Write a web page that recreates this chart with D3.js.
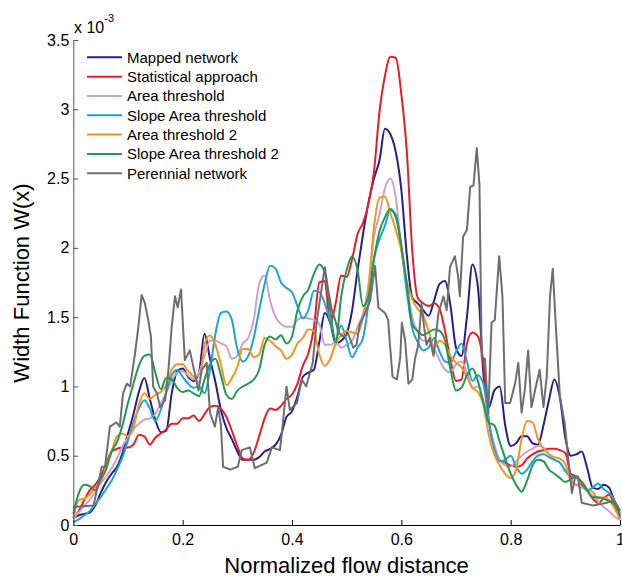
<!DOCTYPE html>
<html>
<head>
<meta charset="utf-8">
<script src="https://cdn.jsdelivr.net/npm/d3@7"></script>
<style>
  body { margin: 0; background: #fff; }
  svg { display: block; font-family: "Liberation Sans", Arial, Helvetica, sans-serif; }
</style>
</head>
<body>
<svg id="canvas" width="622" height="577"></svg>
<script>
// valeurs (unites de 1e-3), pas de 0.01 en distance
const xGrid = d3.range(0, 101).map(i => i / 100)

const mapped = [0.05,0.07,0.08,0.09,0.14,0.23,0.31,0.37,0.42,0.52,
  0.66,0.80,0.96,1.06,0.91,0.76,0.67,0.68,0.95,1.11,
  1.13,1.07,1.04,1.10,1.38,1.20,1.03,0.83,0.70,0.62,
  0.53,0.47,0.47,0.47,0.49,0.53,0.55,0.58,0.65,0.78,
  0.82,0.93,1.07,1.10,1.12,1.32,1.53,1.46,1.31,1.33,
  1.38,1.55,1.84,2.10,2.33,2.50,2.63,2.86,2.82,2.69,
  2.42,1.95,1.64,1.60,1.55,1.51,1.62,1.74,1.76,1.58,
  1.28,1.22,1.50,1.88,1.72,1.10,0.85,0.97,1.00,0.72,
  0.57,0.59,0.64,0.64,0.59,0.58,0.72,0.90,1.05,0.92,
  0.63,0.50,0.51,0.53,0.41,0.27,0.26,0.29,0.27,0.17,
  0.10]

const statistical = [0.05,0.10,0.18,0.25,0.29,0.35,0.44,0.53,0.55,0.56,
  0.56,0.58,0.65,0.64,0.58,0.63,0.66,0.69,0.73,0.73,
  0.77,0.77,0.79,0.75,0.80,0.85,0.86,0.84,0.78,0.68,
  0.57,0.48,0.47,0.52,0.64,0.77,0.84,0.83,0.86,0.91,
  0.94,1.02,1.15,1.24,1.42,1.75,1.76,1.45,1.60,1.80,
  1.79,1.92,2.10,2.18,2.32,2.55,2.98,3.24,3.38,3.37,
  3.11,2.70,1.98,1.64,1.60,1.58,1.60,1.56,1.40,1.19,
  1.04,1.05,1.31,1.39,1.36,1.17,0.75,0.56,0.47,0.45,
  0.43,0.42,0.43,0.48,0.51,0.53,0.54,0.55,0.55,0.54,
  0.52,0.37,0.35,0.29,0.25,0.19,0.16,0.19,0.22,0.14,
  0.06]

const areaThr = [0.05,0.09,0.14,0.18,0.24,0.30,0.35,0.41,0.48,0.57,
  0.63,0.69,0.73,0.76,0.77,0.80,0.88,0.95,1.04,1.10,
  1.11,1.08,1.05,1.10,1.22,1.33,1.33,1.31,1.29,1.20,
  1.22,1.31,1.35,1.48,1.74,1.80,1.62,1.50,1.45,1.43,
  1.43,1.48,1.50,1.49,1.48,1.45,1.30,1.30,1.32,1.28,
  1.30,1.33,1.43,1.53,1.74,2.08,2.24,2.43,2.50,2.36,
  2.00,1.73,1.50,1.39,1.33,1.33,1.27,1.19,1.12,1.10,
  1.16,1.18,1.10,0.99,1.00,0.90,0.73,0.58,0.47,0.43,
  0.42,0.46,0.50,0.53,0.55,0.57,0.56,0.51,0.47,0.45,
  0.39,0.33,0.29,0.27,0.25,0.21,0.17,0.13,0.10,0.06,
  0.04]

const slopeAreaThr = [0.02,0.04,0.07,0.10,0.15,0.20,0.26,0.32,0.40,0.49,
  0.61,0.74,0.84,0.90,0.84,0.75,0.83,0.96,1.08,1.12,
  1.07,1.02,0.99,1.00,0.95,1.12,1.38,1.53,1.54,1.48,
  1.27,1.18,1.22,1.35,1.55,1.74,1.87,1.85,1.75,1.71,
  1.68,1.58,1.49,1.55,1.69,1.68,1.60,1.47,1.34,1.44,
  1.33,1.21,1.28,1.35,1.60,1.92,2.06,2.16,2.27,2.24,
  2.00,1.68,1.42,1.32,1.26,1.28,1.35,1.25,1.18,1.17,
  1.25,1.31,1.18,1.04,1.08,1.02,0.75,0.55,0.46,0.47,
  0.50,0.42,0.37,0.40,0.46,0.50,0.51,0.49,0.47,0.45,
  0.39,0.35,0.34,0.30,0.25,0.27,0.30,0.26,0.23,0.18,
  0.04]

const areaThr2 = [0.05,0.18,0.19,0.22,0.27,0.31,0.42,0.53,0.64,0.66,
  0.64,0.70,0.87,0.95,0.91,0.94,0.96,1.01,1.12,1.16,
  1.16,1.11,1.07,1.03,1.30,1.37,1.30,1.16,1.01,1.06,
  1.14,1.27,1.27,1.21,1.23,1.35,1.33,1.29,1.26,1.20,
  1.23,1.31,1.35,1.41,1.40,1.23,1.15,1.20,1.31,1.37,
  1.40,1.39,1.38,1.50,1.70,2.15,2.36,2.37,2.25,2.13,
  1.98,1.76,1.63,1.56,1.51,1.40,1.28,1.33,1.30,1.22,
  1.17,1.14,1.07,0.99,0.96,0.87,0.65,0.51,0.43,0.37,
  0.34,0.40,0.62,0.75,0.74,0.62,0.55,0.51,0.49,0.48,
  0.44,0.32,0.29,0.31,0.26,0.24,0.19,0.20,0.18,0.12,
  0.04]

const slopeAreaThr2 = [0.08,0.23,0.29,0.28,0.25,0.33,0.40,0.53,0.60,0.72,
  0.88,1.02,1.15,1.22,1.23,1.10,0.98,1.06,1.05,0.99,
  0.96,0.97,0.95,0.93,1.05,1.16,1.20,1.08,0.94,0.91,
  0.97,1.00,1.02,1.05,1.12,1.30,1.36,1.34,1.37,1.31,
  1.36,1.55,1.65,1.70,1.81,1.88,1.82,1.55,1.32,1.65,
  1.84,1.94,1.84,1.58,1.65,1.92,2.12,2.22,2.28,2.22,
  2.02,1.74,1.45,1.40,1.37,1.39,1.41,1.40,1.33,1.12,
  0.97,0.99,1.08,1.13,1.04,0.88,0.74,0.72,0.60,0.48,
  0.37,0.29,0.24,0.32,0.43,0.47,0.46,0.40,0.37,0.34,
  0.31,0.33,0.35,0.31,0.25,0.20,0.20,0.19,0.17,0.15,
  0.08]

// le reseau perenne est tres dentele : points releves a des positions propres
const perennialX = [0.000,0.037,0.043,0.052,0.058,0.067,0.079,0.085,0.091,0.098,
  0.104,0.113,0.119,0.125,0.131,0.137,0.142,0.146,0.153,0.159,
  0.168,0.174,0.180,0.186,0.191,0.197,0.204,0.213,0.222,0.229,
  0.235,0.244,0.250,0.259,0.265,0.270,0.274,0.287,0.301,0.308,
  0.323,0.332,0.354,0.363,0.378,0.384,0.390,0.396,0.409,0.418,
  0.426,0.433,0.438,0.445,0.454,0.460,0.466,0.473,0.479,0.485,
  0.493,0.503,0.512,0.518,0.524,0.534,0.543,0.552,0.558,0.570,
  0.576,0.579,0.584,0.592,0.598,0.601,0.607,0.613,0.620,0.625,
  0.631,0.637,0.641,0.646,0.652,0.659,0.668,0.677,0.683,0.689,
  0.698,0.704,0.707,0.713,0.720,0.726,0.732,0.738,0.743,0.747,
  0.753,0.759,0.765,0.771,0.779,0.785,0.790,0.799,0.808,0.814,
  0.820,0.826,0.832,0.838,0.845,0.853,0.860,0.866,0.872,0.877,
  0.883,0.890,0.899,0.905,0.912,0.918,0.923,0.930,0.951,0.976,
  0.988,0.997,1.000]
const perennialY = [0.13,0.14,0.25,0.42,0.42,0.71,0.74,0.71,0.95,1.02,
  1.00,1.24,1.43,1.66,1.60,1.48,1.36,1.00,0.95,0.85,
  0.90,1.12,1.43,1.65,1.57,1.70,1.19,1.26,1.10,0.97,
  1.12,1.17,0.81,0.71,0.85,0.72,0.42,0.40,0.42,0.54,
  0.56,0.41,0.45,0.56,0.54,0.76,1.00,0.83,0.88,1.05,
  1.00,1.10,1.17,1.46,1.70,1.86,1.70,1.55,1.48,1.39,
  1.36,1.38,1.28,1.30,1.45,1.53,1.62,1.87,1.57,1.53,
  1.48,1.31,1.07,1.05,1.21,1.46,1.33,1.02,1.05,1.20,
  1.30,1.60,1.45,1.30,1.35,1.22,1.53,1.65,1.55,1.86,
  1.94,1.79,1.65,2.08,2.13,2.44,2.45,2.72,2.45,1.21,
  1.20,0.80,1.46,1.48,1.94,1.65,0.88,0.88,1.02,1.17,
  0.81,0.98,1.26,0.85,0.98,1.12,0.85,1.07,1.65,1.85,
  1.41,0.93,0.73,0.49,0.23,0.35,0.35,0.16,0.14,0.16,
  0.18,0.13,0.06]

const seriesNames = ['Mapped network', 'Statistical approach', 'Area threshold',
  'Slope Area threshold', 'Area threshold 2', 'Slope Area threshold 2', 'Perennial network']
const seriesColors = ['#2c1c8a', '#ec1c24', '#c9a2d2', '#1ba5d6', '#f7941e', '#1f9a4f', '#6d6e71']

const xTicks = [0, 0.2, 0.4, 0.6, 0.8, 1]
const yTicks = [0, 0.5, 1, 1.5, 2, 2.5, 3, 3.5]

// series en paires (x, y)
let series = [mapped, statistical, areaThr, slopeAreaThr, areaThr2, slopeAreaThr2]
  .map(vals => vals.map((v, i) => [xGrid[i], v]))
series.push(perennialX.map((x, i) => [x, perennialY[i]]))

let canvas = d3.select('#canvas')

let x = d3.scaleLinear().domain([0, 1]).range([73.3, 620])
let y = d3.scaleLinear().domain([0, 3.5]).range([525, 40])

// courbes lisses pour les reseaux extraits, trait brut pour le perenne
let ligneLisse = d3.line().x(d => x(d[0])).y(d => y(d[1])).curve(d3.curveMonotoneX)
let ligneBrute = d3.line().x(d => x(d[0])).y(d => y(d[1]))

canvas.append('g')
  .selectAll('path')
  .data(series)
  .enter()
  .append('path')
  .attr('d', (d, i) => i === 6 ? ligneBrute(d) : ligneLisse(d))
  .attr('fill', 'none')
  .attr('stroke', (d, i) => seriesColors[i])
  .attr('stroke-width', 2)
  .attr('stroke-linejoin', 'round')

// axes (graduations vers l'interieur, style matlab)
let axeX = canvas.append('g')
  .attr('transform', 'translate(0,525)')
  .call(d3.axisBottom(x).tickValues(xTicks).tickFormat(d3.format('')).tickSize(-5).tickSizeOuter(0).tickPadding(9))
let axeY = canvas.append('g')
  .attr('transform', 'translate(73.3,0)')
  .call(d3.axisLeft(y).tickValues(yTicks).tickFormat(d3.format('')).tickSize(-5).tickSizeOuter(0).tickPadding(4))

canvas.selectAll('.tick text').attr('font-size', 16).attr('fill', '#000').attr('font-family', null)
axeX.select('.domain').attr('stroke', '#000')
axeY.select('.domain').attr('stroke', '#555')
axeY.selectAll('.tick line').attr('stroke', '#555')

// facteur d'echelle
let facteur = canvas.append('text')
  .attr('x', 74).attr('y', 33)
  .attr('font-size', 16)
facteur.append('tspan').text('x 10')
facteur.append('tspan').attr('font-size', 11).attr('dy', -11).text('-3')

// titres des axes
canvas.append('text')
  .attr('x', 346.6).attr('y', 573)
  .attr('text-anchor', 'middle')
  .attr('font-size', 22)
  .text('Normalized flow distance')
canvas.append('text')
  .attr('transform', 'translate(29,283) rotate(-90)')
  .attr('text-anchor', 'middle')
  .attr('font-size', 22)
  .text('Width Function W(x)')

// legende
let legende = canvas.append('g')
  .selectAll('g')
  .data(seriesNames)
  .enter()
  .append('g')
  .attr('transform', (d, i) => 'translate(87,' + (57.3 + i * 19.33) + ')')
legende.append('line')
  .attr('x1', 0).attr('x2', 35)
  .attr('stroke', (d, i) => seriesColors[i])
  .attr('stroke-width', 2)
legende.append('text')
  .attr('x', 40)
  .attr('dy', '0.35em')
  .attr('font-size', 15)
  .text(d => d)
</script>
</body>
</html>
